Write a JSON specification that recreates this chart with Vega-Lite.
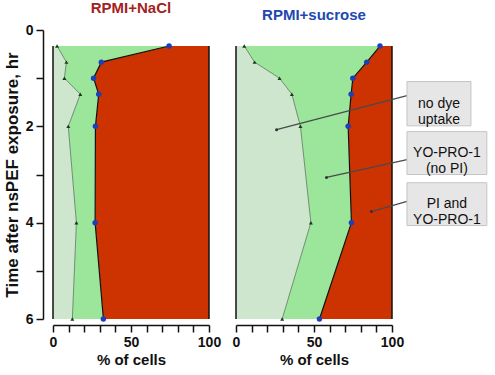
{
  "$schema": "https://vega.github.io/schema/vega-lite/v6.json",
  "background": "white",
  "padding": {"left": 3, "top": 1, "right": 2, "bottom": 2},
  "spacing": 27,
  "bounds": "flush",
  "datasets": {
    "nacl": [
      {"time": 0.333, "nodye": 2.6, "dye": 74.4},
      {"time": 0.667, "nodye": 8.6, "dye": 31.0},
      {"time": 1.0, "nodye": 7.3, "dye": 26.0},
      {"time": 1.333, "nodye": 17.5, "dye": 29.3},
      {"time": 2.0, "nodye": 9.8, "dye": 27.2},
      {"time": 4.0, "nodye": 15.0, "dye": 27.0},
      {"time": 6.0, "nodye": 12.4, "dye": 32.3}
    ],
    "sucrose": [
      {"time": 0.333, "nodye": 5.3, "dye": 92.3},
      {"time": 0.667, "nodye": 11.9, "dye": 83.8},
      {"time": 1.0, "nodye": 27.9, "dye": 74.9},
      {"time": 1.333, "nodye": 35.8, "dye": 73.8},
      {"time": 2.0, "nodye": 41.3, "dye": 71.9},
      {"time": 4.0, "nodye": 48.0, "dye": 74.0},
      {"time": 6.0, "nodye": 29.6, "dye": 53.5}
    ],
    "callouts": [
      {"label": "no dye\nuptake", "bx0": 109.6, "bx1": 150.6, "bt0": 1.07, "bt1": 1.99, "cx": 130.1, "ct": 1.53, "lx": 109.6, "lt": 1.364, "px": 26.0, "pt": 2.07},
      {"label": "YO-PRO-1\n(no PI)", "bx0": 109.6, "bx1": 160.8, "bt0": 2.11, "bt1": 3.0, "cx": 135.2, "ct": 2.555, "lx": 109.6, "lt": 2.69, "px": 58.0, "pt": 3.06},
      {"label": "PI  and\nYO-PRO-1", "bx0": 109.6, "bx1": 160.8, "bt0": 3.17, "bt1": 4.06, "cx": 135.2, "ct": 3.615, "lx": 109.6, "lt": 3.56, "px": 86.8, "pt": 3.77}
    ]
  },
  "config": {
    "view": {"stroke": null},
    "font": "Liberation Sans",
    "axis": {
      "grid": false,
      "labelFlush": false,
      "labelOverlap": false,
      "labelFont": "Liberation Sans",
      "labelFontSize": 14,
      "labelFontWeight": "bold",
      "labelColor": "#111111",
      "titleFont": "Liberation Sans",
      "titleFontSize": 15,
      "titleFontWeight": "bold",
      "titleColor": "#111111"
    },
    "title": {"font": "Liberation Sans", "fontSize": 15, "fontWeight": "bold", "offset": 7}
  },
  "hconcat": [
    {
      "width": 156,
      "height": 289,
      "title": {"text": "RPMI+NaCl", "color": "#a32222"},
      "data": {"name": "nacl"},
      "encoding": {
        "y": {
          "field": "time",
          "type": "quantitative",
          "scale": {"domain": [0, 6], "reverse": true, "nice": false, "zero": false},
          "axis": {
            "title": "Time after nsPEF exposure, hr",
            "titleFontSize": 17,
            "titlePadding": 4,
            "values": [0, 1, 2, 3, 4, 5, 6],
            "labelExpr": "datum.value % 2 === 0 ? datum.label : ''",
            "offset": 10,
            "labelPadding": 3,
            "domain": true,
            "ticks": true,
            "domainColor": "#111111",
            "domainWidth": 1.5,
            "tickColor": "#111111",
            "tickWidth": 1.5,
            "tickSize": 7
          }
        },
        "x": {
          "field": "nodye",
          "type": "quantitative",
          "scale": {"domain": [0, 100], "nice": false},
          "axis": {
            "title": "% of cells",
            "values": [0, 10, 20, 30, 40, 50, 60, 70, 80, 90, 100],
            "labelExpr": "datum.value % 50 === 0 ? datum.label : ''",
            "offset": 6,
            "labelPadding": 3,
            "titlePadding": 3,
            "domain": true,
            "ticks": true,
            "domainColor": "#111111",
            "domainWidth": 1.5,
            "tickColor": "#111111",
            "tickWidth": 1.5,
            "tickSize": 7
          }
        }
      },
      "layer": [
        {
          "mark": {"type": "area", "orient": "horizontal", "color": "#cc3300"},
          "encoding": {"x": {"field": "dye", "type": "quantitative"}, "x2": {"datum": 100}}
        },
        {
          "mark": {"type": "area", "orient": "horizontal", "color": "#9be69b"},
          "encoding": {"x2": {"field": "dye"}}
        },
        {
          "mark": {"type": "area", "orient": "horizontal", "color": "#cde6cd"},
          "encoding": {"x2": {"datum": 0}}
        },
        {
          "mark": {"type": "line", "color": "#111111", "strokeWidth": 1.5},
          "encoding": {"x": {"datum": 0, "type": "quantitative"}, "order": {"field": "time"}}
        },
        {
          "mark": {"type": "line", "color": "#111111", "strokeWidth": 1.5},
          "encoding": {"x": {"datum": 100, "type": "quantitative"}, "order": {"field": "time"}}
        },
        {
          "mark": {"type": "line", "color": "#5a765a", "strokeWidth": 0.8},
          "encoding": {"order": {"field": "time"}}
        },
        {
          "mark": {"type": "line", "color": "#111111", "strokeWidth": 1.2},
          "encoding": {"x": {"field": "dye", "type": "quantitative"}, "order": {"field": "time"}}
        },
        {
          "mark": {"type": "point", "shape": "triangle-up", "filled": true, "color": "#1b3a1b", "size": 16, "opacity": 1}
        },
        {
          "mark": {"type": "point", "shape": "circle", "filled": true, "color": "#1f3fb8", "size": 30, "opacity": 1},
          "encoding": {"x": {"field": "dye", "type": "quantitative"}}
        }
      ]
    },
    {
      "width": 156,
      "height": 289,
      "title": {"text": "RPMI+sucrose", "color": "#2248b0"},
      "data": {"name": "sucrose"},
      "encoding": {
        "y": {
          "field": "time",
          "type": "quantitative",
          "scale": {"domain": [0, 6], "reverse": true, "nice": false, "zero": false},
          "axis": null
        },
        "x": {
          "field": "nodye",
          "type": "quantitative",
          "scale": {"domain": [0, 100], "nice": false},
          "axis": {
            "title": "% of cells",
            "values": [0, 10, 20, 30, 40, 50, 60, 70, 80, 90, 100],
            "labelExpr": "datum.value % 50 === 0 ? datum.label : ''",
            "offset": 6,
            "labelPadding": 3,
            "titlePadding": 3,
            "domain": true,
            "ticks": true,
            "domainColor": "#111111",
            "domainWidth": 1.5,
            "tickColor": "#111111",
            "tickWidth": 1.5,
            "tickSize": 7
          }
        }
      },
      "layer": [
        {
          "mark": {"type": "area", "orient": "horizontal", "color": "#cc3300"},
          "encoding": {"x": {"field": "dye", "type": "quantitative"}, "x2": {"datum": 100}}
        },
        {
          "mark": {"type": "area", "orient": "horizontal", "color": "#9be69b"},
          "encoding": {"x2": {"field": "dye"}}
        },
        {
          "mark": {"type": "area", "orient": "horizontal", "color": "#cde6cd"},
          "encoding": {"x2": {"datum": 0}}
        },
        {
          "mark": {"type": "line", "color": "#111111", "strokeWidth": 1.5},
          "encoding": {"x": {"datum": 0, "type": "quantitative"}, "order": {"field": "time"}}
        },
        {
          "mark": {"type": "line", "color": "#111111", "strokeWidth": 1.5},
          "encoding": {"x": {"datum": 100, "type": "quantitative"}, "order": {"field": "time"}}
        },
        {
          "mark": {"type": "line", "color": "#5a765a", "strokeWidth": 0.8},
          "encoding": {"order": {"field": "time"}}
        },
        {
          "mark": {"type": "line", "color": "#111111", "strokeWidth": 1.2},
          "encoding": {"x": {"field": "dye", "type": "quantitative"}, "order": {"field": "time"}}
        },
        {
          "mark": {"type": "point", "shape": "triangle-up", "filled": true, "color": "#1b3a1b", "size": 16, "opacity": 1}
        },
        {
          "mark": {"type": "point", "shape": "circle", "filled": true, "color": "#1f3fb8", "size": 30, "opacity": 1},
          "encoding": {"x": {"field": "dye", "type": "quantitative"}}
        },
        {
          "data": {"name": "callouts"},
          "mark": {"type": "rule", "color": "#4a4a4a", "strokeWidth": 1.3, "clip": false},
          "encoding": {
            "x": {"field": "lx", "type": "quantitative"},
            "y": {"field": "lt", "type": "quantitative"},
            "x2": {"field": "px"},
            "y2": {"field": "pt"}
          }
        },
        {
          "data": {"name": "callouts"},
          "mark": {"type": "point", "shape": "circle", "filled": true, "color": "#333333", "size": 9, "opacity": 1, "clip": false},
          "encoding": {
            "x": {"field": "px", "type": "quantitative"},
            "y": {"field": "pt", "type": "quantitative"}
          }
        },
        {
          "data": {"name": "callouts"},
          "mark": {"type": "rect", "fill": "#e6e6e6", "stroke": "#c4c4c4", "strokeWidth": 1, "clip": false},
          "encoding": {
            "x": {"field": "bx0", "type": "quantitative"},
            "x2": {"field": "bx1"},
            "y": {"field": "bt0", "type": "quantitative"},
            "y2": {"field": "bt1"}
          }
        },
        {
          "data": {"name": "callouts"},
          "mark": {"type": "text", "lineBreak": "\n", "fontSize": 14, "lineHeight": 16, "align": "center", "baseline": "middle", "color": "#111111", "clip": false},
          "encoding": {
            "x": {"field": "cx", "type": "quantitative"},
            "y": {"field": "ct", "type": "quantitative"},
            "text": {"field": "label"}
          }
        }
      ]
    }
  ]
}
